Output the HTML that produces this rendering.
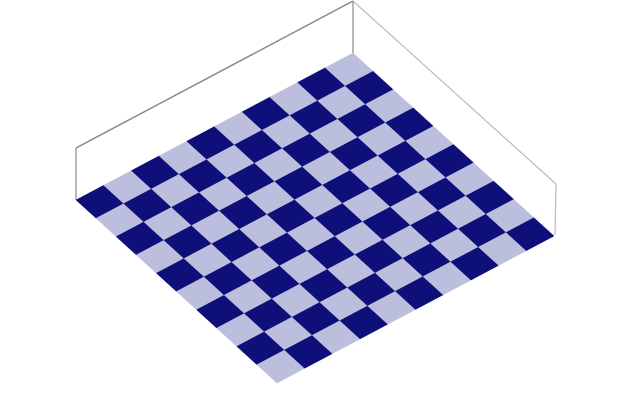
<!DOCTYPE html>
<html><head><meta charset="utf-8"><style>body{margin:0;background:#fff;width:640px;height:400px;overflow:hidden}</style></head>
<body>
<svg id="c" width="640" height="400" xmlns="http://www.w3.org/2000/svg">
<g id="walls">
<line x1="76" y1="148" x2="353" y2="1" stroke="#888" stroke-width="1.5"/>
<line x1="76" y1="148" x2="76" y2="200" stroke="#888" stroke-width="1.2"/>
<line x1="353" y1="1" x2="353" y2="53" stroke="#888" stroke-width="1.2"/>
<line x1="353" y1="1" x2="556" y2="184" stroke="#bbb" stroke-width="1.2"/>
<line x1="556" y1="184" x2="555" y2="235" stroke="#bbb" stroke-width="1.2"/>
</g>
<g id="cells"></g>
</svg>
<script>
const rows = [0,1,2,3,4,5,6,7,8,9];
const cols = [0,1,2,3,4,5,6,7,8,9];
const values = [
[1,0,1,0,1,0,1,0,1,0],
[0,1,0,1,0,1,0,1,0,1],
[1,0,1,0,1,0,1,0,1,0],
[0,1,0,1,0,1,0,1,0,1],
[1,0,1,0,1,0,1,0,1,0],
[0,1,0,1,0,1,0,1,0,1],
[1,0,1,0,1,0,1,0,1,0],
[0,1,0,1,0,1,0,1,0,1],
[1,0,1,0,1,0,1,0,1,0],
[0,1,0,1,0,1,0,1,0,1]
];
const O=[76,200], U=[277,-147], V=[201,183];
function proj(i,j){const n=rows.length,m=cols.length;return [O[0]+U[0]*i/n+V[0]*j/m, O[1]+U[1]*i/n+V[1]*j/m];}
function color(v){return v>=0.5?'#0f0f7a':'#bbbedc';}
const g=document.getElementById('cells');
const NS='http://www.w3.org/2000/svg';
rows.forEach((r,i)=>cols.forEach((c,j)=>{
  const p=[proj(i,j),proj(i+1,j),proj(i+1,j+1),proj(i,j+1)];
  const el=document.createElementNS(NS,'polygon');
  el.setAttribute('points',p.map(q=>q.join(',')).join(' '));
  el.setAttribute('fill',color(values[i][j]));
  el.setAttribute('stroke',color(values[i][j]));
  el.setAttribute('stroke-width','0.5');
  
  
  g.appendChild(el);
}));
</script>
</body></html>
